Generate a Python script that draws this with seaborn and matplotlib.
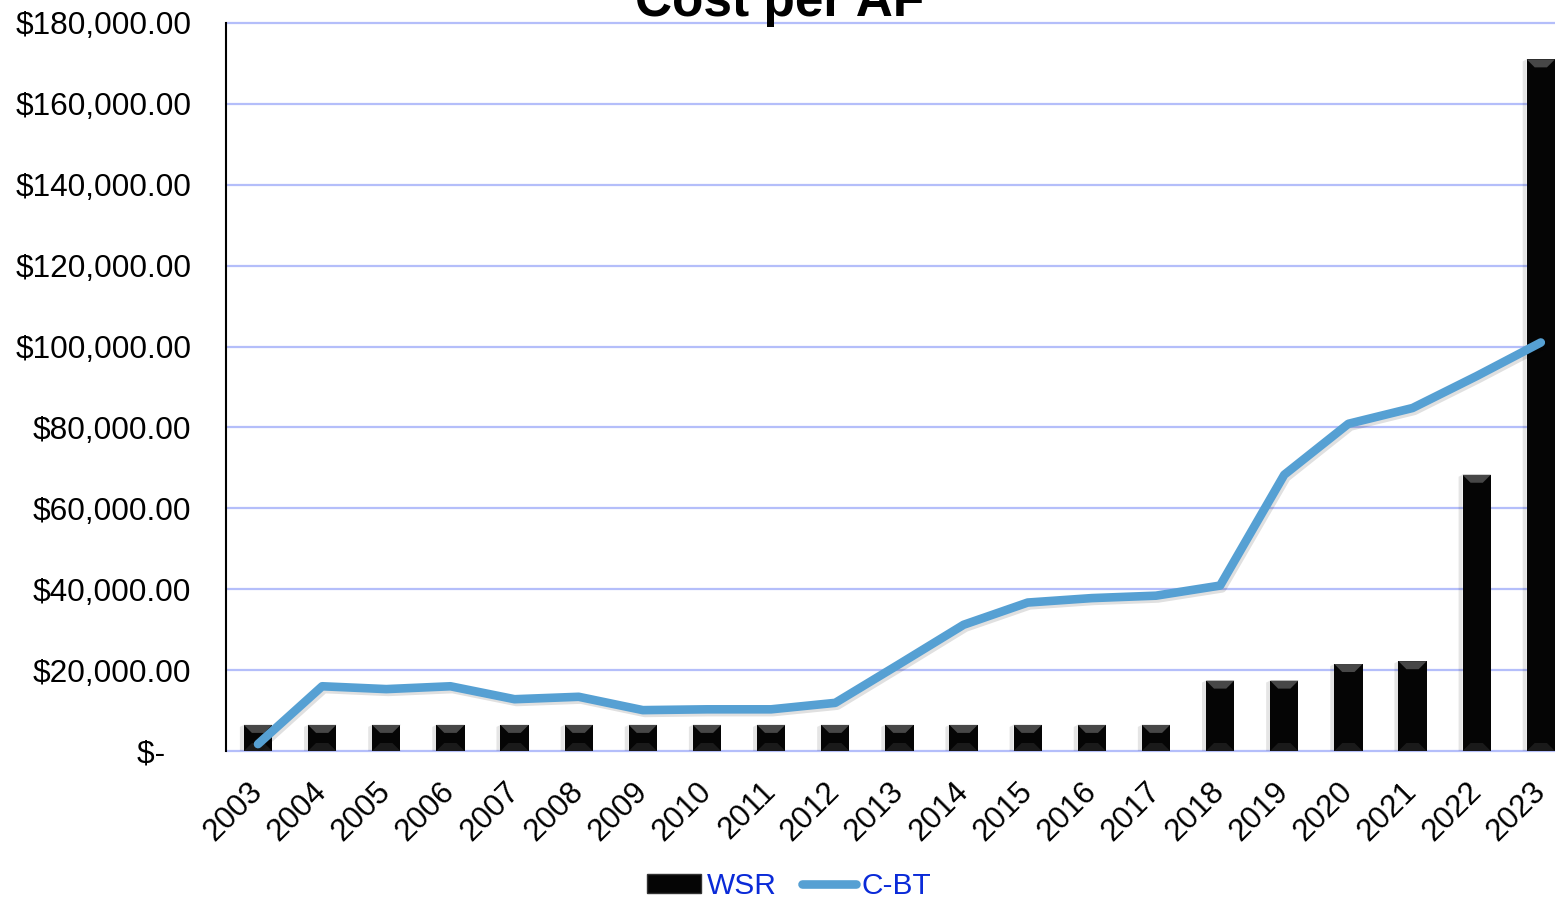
import numpy as np
import pandas as pd
import matplotlib
matplotlib.use("Agg")
import matplotlib.pyplot as plt
import seaborn as sns
from matplotlib.patches import Polygon, Patch, Rectangle
from matplotlib.lines import Line2D
import matplotlib.patheffects as pe
from matplotlib.ticker import FuncFormatter, MultipleLocator

# ---------------- data ----------------
years = ["2003", "2004", "2005", "2006", "2007", "2008", "2009", "2010", "2011", "2012",
         "2013", "2014", "2015", "2016", "2017", "2018", "2019", "2020", "2021", "2022", "2023"]
wsr = [6450, 6450, 6450, 6450, 6450, 6450, 6450, 6450, 6450, 6450,
       6450, 6450, 6450, 6450, 6450, 17400, 17400, 21500, 22200, 68300, 171000]
cbt = [1700, 16000, 15300, 16000, 12800, 13400, 10100, 10300, 10300, 11900,
       21500, 31200, 36700, 37800, 38400, 40900, 68300, 80900, 84800, 92700, 101000]
series_names = ["WSR", "C-BT"]
title_text = "Cost per AF"

# ---------------- style ----------------
sns.set_theme(style="white")
plt.rcParams["font.family"] = ["Liberation Sans", "DejaVu Sans"]
plt.rcParams["text.parse_math"] = False

BAR_COLOR = "#050505"
LINE_COLOR = "#56a0d3"
GRID_COLOR = "#b4befa"
LEGEND_TEXT = "#0a2ad8"

fig = plt.figure(figsize=(15.55, 9.01), dpi=100)
ax = fig.add_axes([0.1453, 0.1665, 0.8662, 0.808])

df = pd.DataFrame({"Year": years, series_names[0]: wsr, series_names[1]: cbt})

sns.barplot(data=df, x="Year", y=series_names[0], color=BAR_COLOR, saturation=1,
            width=0.44, edgecolor="none", ax=ax, zorder=3)
sns.pointplot(data=df, x="Year", y=series_names[1], color=LINE_COLOR, markers="",
              linestyles="-", errorbar=None, ax=ax)

line = ax.lines[-1]
line.set_marker("")
line.set_linewidth(6.2)
line.set_solid_capstyle("round")
line.set_solid_joinstyle("round")
line.set_zorder(5)
line.set_path_effects([pe.SimpleLineShadow(offset=(1.5, -2.0), shadow_color="black", alpha=0.12),
                       pe.Normal()])

ax.set_xlim(-0.5, len(years) - 0.5)
ax.set_ylim(0, 180000)
ax.yaxis.set_major_locator(MultipleLocator(20000))
ax.yaxis.set_major_formatter(FuncFormatter(lambda v, p: "$-   " if v == 0 else f"${v:,.2f}"))

ax.yaxis.grid(True, color=GRID_COLOR, linewidth=1.6)
ax.xaxis.grid(False)
ax.set_axisbelow(True)
for s in ["top", "right", "bottom"]:
    ax.spines[s].set_visible(False)
ax.spines["left"].set_color("black")
ax.spines["left"].set_linewidth(1.5)
ax.spines["left"].set_zorder(6)

ax.set_xlabel("")
ax.set_ylabel("")
ax.tick_params(axis="y", length=0, pad=25, labelsize=22.8, labelcolor="black")
ax.tick_params(axis="x", length=0, pad=26, labelsize=22.5, labelcolor="black")
for lab in ax.get_xticklabels():
    lab.set_rotation(45)
    lab.set_ha("right")
    lab.set_va("center")
    lab.set_rotation_mode("anchor")

fig.canvas.draw()
for gl in ax.yaxis.get_gridlines():
    gl.set_clip_on(False)

# bevel / shadow decoration derived from the drawn bars
inv = ax.transData.inverted()
bars = [p for p in ax.patches if isinstance(p, Rectangle)]
for p in bars:
    x0, w, h = p.get_x(), p.get_width(), p.get_height()
    (L, B), (R, T) = ax.transData.transform([(x0, 0), (x0 + w, h)])
    d = min(8.0, (T - B) / 2.0)
    top = inv.transform([(L, T), (R, T), (R - d, T - d), (L + d, T - d)])
    bot = inv.transform([(L, B), (R, B), (R - d, B + d), (L + d, B + d)])
    sh = inv.transform([(L - 4, B), (L, B), (L, T), (L - 4, T - 2)])
    ax.add_patch(Polygon(top, closed=True, facecolor="#474747", edgecolor="none", zorder=3.5))
    ax.add_patch(Polygon(bot, closed=True, facecolor="#1a1a1a", edgecolor="none", zorder=3.5))
    ax.add_patch(Polygon(sh, closed=True, facecolor="black", alpha=0.10, edgecolor="none", zorder=2.9))

# title (partly clipped at top as in the source)
fig.text(0.5016, 1 - 16 / 901, title_text, ha="center", va="baseline",
         fontsize=37, fontweight="bold", color="black")

handles = [Patch(facecolor=BAR_COLOR, edgecolor="#333333", linewidth=1.0),
           Line2D([0], [0], color=LINE_COLOR, linewidth=6.2, solid_capstyle="round")]
fig.legend(handles, series_names, loc="center", bbox_to_anchor=(0.5075, 0.0165),
           ncol=2, frameon=False, fontsize=21.5, labelcolor=LEGEND_TEXT,
           handlelength=1.8, handletextpad=0.2, columnspacing=0.85, borderpad=0,
           handleheight=0.6)

fig.savefig("out.png", dpi=100)
